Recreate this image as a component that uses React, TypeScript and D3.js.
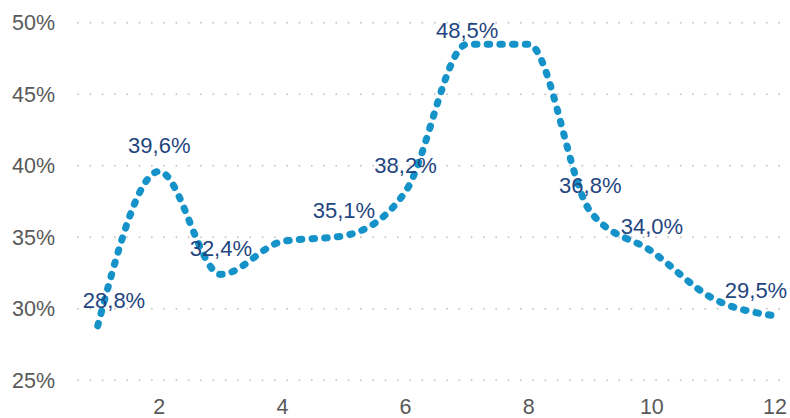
import React from 'react';
import * as d3 from 'd3';

const months = [1, 2, 3, 4, 5, 6, 7, 8, 9, 10, 11, 12];
const shares = [28.8, 39.6, 32.4, 34.7, 35.1, 38.2, 48.5, 48.5, 36.8, 34.0, 30.7, 29.5];
const labelled = [true, true, true, false, true, true, true, false, true, true, false, true];
const yTicks = [25, 30, 35, 40, 45, 50];
const xTicks = [2, 4, 6, 8, 10, 12];

const W = 790;
const H = 418;
const FONT = '"Liberation Sans", Arial, sans-serif';

const fmt = (v: number) => v.toFixed(1).replace('.', ',') + '%';

const App: React.FC = () => {
  const x = d3.scaleLinear().domain([1, 12]).range([97.7, 775]);
  const y = d3.scaleLinear().domain([25, 50]).range([380.2, 22.7]);

  const points = months.map((m, i) => [m, shares[i]] as [number, number]);
  const line = d3.line<[number, number]>()
    .x(d => x(d[0]))
    .y(d => y(d[1]))
    .curve(d3.curveMonotoneX);

  const labelW = 62;

  return (
    <svg width={W} height={H} style={{ position: 'absolute', left: 0, top: 0 }}>
      {yTicks.map(t => (
        <g key={t}>
          <line x1={78} x2={W} y1={y(t)} y2={y(t)} stroke="#c8c8c8" strokeWidth={2}
            strokeDasharray="0 12.3" strokeLinecap="round" />
          <text x={55} y={y(t)} dy="0.36em" textAnchor="end" fontFamily={FONT}
            fontSize={21.5} fill="#595959">{t}%</text>
        </g>
      ))}
      {xTicks.map(t => (
        <text key={t} x={x(t)} y={414} textAnchor="middle" fontFamily={FONT}
          fontSize={21.5} fill="#595959">{t}</text>
      ))}
      <path d={line(points) ?? ''} fill="none" stroke="#1593c9" strokeWidth={7}
        strokeDasharray="2.5 10.2" strokeLinecap="round" strokeLinejoin="round" />
      {points.map((p, i) => {
        if (!labelled[i]) return null;
        let cx = x(p[0]);
        cx = Math.max(cx, 83 + labelW / 2);
        cx = Math.min(cx, 787 - labelW / 2);
        const by = Math.max(y(p[1]) - 18, 38);
        return (
          <text key={i} x={cx} y={by} textAnchor="middle" fontFamily={FONT}
            fontSize={22} fill="#1f4680">{fmt(p[1])}</text>
        );
      })}
    </svg>
  );
};

export default App;
